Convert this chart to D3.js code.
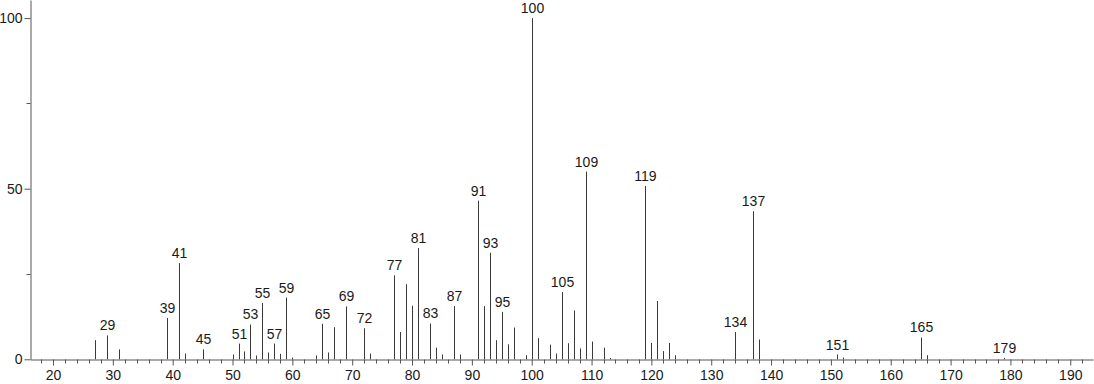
<!DOCTYPE html>
<html><head><meta charset="utf-8">
<script src="https://cdn.jsdelivr.net/npm/d3@7"></script>
<style>
html,body{margin:0;padding:0;background:#fff;}
svg{display:block;font-family:"Liberation Sans",Arial,sans-serif;}
</style></head>
<body><svg id="c" width="1094" height="384"></svg>
<script>
const mz = [27,29,31,39,41,42,45,50,51,52,53,54,55,56,57,58,59,60,
  64,65,66,67,69,72,73,77,78,79,80,81,83,84,85,87,88,
  91,92,93,94,95,96,97,99,100,101,103,104,105,106,107,108,109,110,112,113,
  119,120,121,122,123,124,134,137,138,151,152,165,166,179];
const intensity = [5.6,7.0,2.9,12.1,28.2,1.7,2.9,1.4,4.6,2.3,10.2,1.1,16.5,2.0,4.6,1.6,18.1,0.5,
  1.1,10.4,2.0,9.4,15.5,9.1,1.7,24.6,8.0,22.0,15.7,32.6,10.5,3.4,1.4,15.6,1.4,
  46.5,15.6,31.2,5.6,13.9,4.4,9.3,1.2,100,6.2,4.3,1.7,19.7,4.7,14.3,3.2,55.0,5.2,3.4,0.4,
  50.8,4.8,17.1,2.4,4.8,1.2,8.0,43.4,5.8,1.4,0.5,6.4,1.2,0.4];
const labeled = [29,39,41,45,51,53,55,57,59,65,69,72,77,81,83,87,91,93,95,100,105,109,119,134,137,151,165,179];
const xMajorTicks = [20,30,40,50,60,70,80,90,100,110,120,130,140,150,160,170,180,190];
const yMajorTicks = [0,50,100];
const yMinorTicks = [25,75];

const svg = d3.select("#c");
const x = d3.scaleLinear().domain([16.24,193.8]).range([30.5,1093]);
const y = d3.scaleLinear().domain([0,105.3]).range([359.3,0]);
const axisColor = "#555", peakColor = "#3a3a3a", textColor = "#1a1a1a";
const FONT = "'Liberation Sans',Arial,sans-serif";

// x minor ticks
const xMinor = d3.range(18,194,2).filter(v => v % 10 !== 0);
svg.append("g").selectAll("line").data(xMinor).join("line")
  .attr("x1", d=>Math.round(x(d))+0.5).attr("x2", d=>Math.round(x(d))+0.5)
  .attr("y1", 359.5).attr("y2", 363.5).attr("stroke", axisColor);
// x axis
const gx = svg.append("g").attr("transform","translate(0,359.5)")
  .call(d3.axisBottom(x).tickValues(xMajorTicks).tickSize(6).tickPadding(5).tickSizeOuter(0));
gx.select(".domain").attr("stroke", axisColor);
gx.selectAll(".tick line").attr("stroke", axisColor);
gx.selectAll(".tick text").attr("fill", textColor).style("font-size","14px").style("font-family",FONT);

// y minor
svg.append("g").selectAll("line").data(yMinorTicks).join("line")
  .attr("x1", 26.5).attr("x2", 30.5)
  .attr("y1", d=>Math.round(y(d))+0.5).attr("y2", d=>Math.round(y(d))+0.5).attr("stroke", axisColor);
const gy = svg.append("g").attr("transform","translate(30.5,0)")
  .call(d3.axisLeft(y).tickValues(yMajorTicks).tickSize(6).tickPadding(2).tickSizeOuter(0));
gy.select(".domain").attr("stroke", axisColor);
gy.selectAll(".tick line").attr("stroke", axisColor);
gy.selectAll(".tick text").attr("fill", textColor).style("font-size","14px").style("font-family",FONT);

// peaks
const peaks = mz.map((m,i)=>({m, v:intensity[i]}));
svg.append("g").selectAll("line").data(peaks).join("line")
  .attr("x1", d=>Math.round(x(d.m))+0.5).attr("x2", d=>Math.round(x(d.m))+0.5)
  .attr("y1", y(0)).attr("y2", d=>y(d.v))
  .attr("stroke", peakColor).attr("stroke-width",1);

svg.append("g").selectAll("text").data(peaks.filter(d=>labeled.includes(d.m))).join("text")
  .attr("x", d=>Math.round(x(d.m))+0.5).attr("y", d=>y(d.v)-5)
  .attr("text-anchor","middle").attr("fill", textColor)
  .style("font-size","14px").style("font-family",FONT)
  .text(d=>d.m);
</script></body></html>
